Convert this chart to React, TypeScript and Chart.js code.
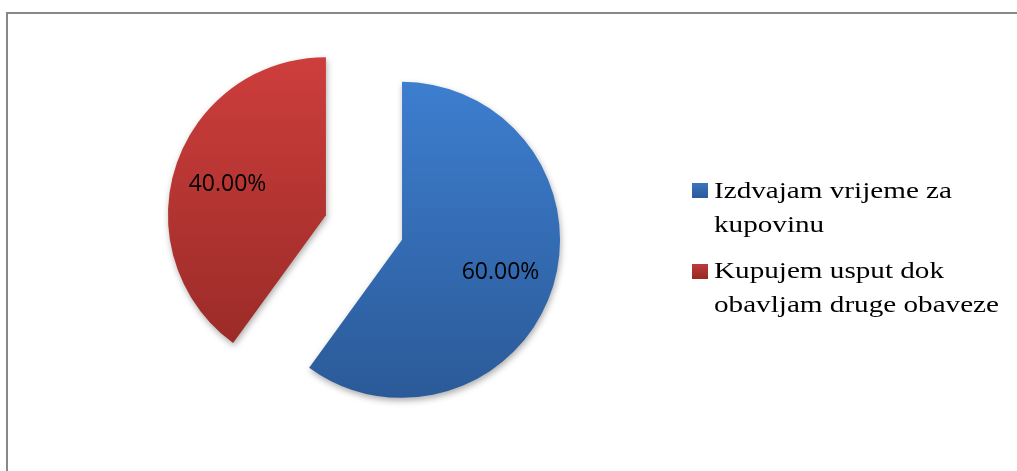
import React, { useEffect, useRef } from "react";
import { Chart, registerables } from "chart.js";

Chart.register(...registerables);

const categories = [
  "Izdvajam vrijeme za kupovinu",
  "Kupujem usput dok obavljam druge obaveze",
];
const legendLines = [
  ["Izdvajam vrijeme za", "kupovinu"],
  ["Kupujem usput dok", "obavljam druge obaveze"],
];
const values = [60, 40];
const valueLabels = ["60.00%", "40.00%"];
const topColors = ["#3d7ecf", "#cd3e3c"];
const bottomColors = ["#2b5a98", "#962926"];
const legendSquares = ["#3a74bf", "#c0393a"];

const SHIFT = 40;
const RADIUS = 158;

// Exploded slice drawing: each arc (geometry computed by Chart.js) is
// pushed outwards along its mid-angle by SHIFT pixels.
function explodedDraw(this: any, ctx: CanvasRenderingContext2D) {
  const { x, y, startAngle, endAngle, outerRadius, options } = this;
  const mid = (startAngle + endAngle) / 2;
  ctx.save();
  ctx.translate(Math.cos(mid) * SHIFT, Math.sin(mid) * SHIFT);
  ctx.beginPath();
  ctx.moveTo(x, y);
  ctx.arc(x, y, outerRadius, startAngle, endAngle);
  ctx.closePath();
  ctx.shadowColor = "rgba(0,0,0,0.32)";
  ctx.shadowBlur = 6;
  ctx.shadowOffsetX = 1;
  ctx.shadowOffsetY = 3;
  ctx.fillStyle = options.backgroundColor;
  ctx.fill();
  ctx.restore();
}

const pieFx = {
  id: "pieFx",
  beforeDatasetsDraw(chart: any) {
    const meta = chart.getDatasetMeta(0);
    meta.data.forEach((arc: any) => {
      arc.draw = explodedDraw;
    });
  },
  afterDatasetsDraw(chart: any) {
    const c = chart.ctx;
    const meta = chart.getDatasetMeta(0);
    c.save();
    c.font = '23px "Open Sans"';
    c.fillStyle = "#000";
    c.textAlign = "center";
    c.textBaseline = "middle";
    meta.data.forEach((arc: any, i: number) => {
      const { x, y, startAngle, endAngle, outerRadius } = arc.getProps(
        ["x", "y", "startAngle", "endAngle", "outerRadius"],
        true
      );
      const mid = (startAngle + endAngle) / 2;
      const d = SHIFT + 0.655 * outerRadius;
      c.fillText(valueLabels[i], x + Math.cos(mid) * d, y + Math.sin(mid) * d + 1);
    });
    c.restore();
  },
};

export default function App() {
  const ref = useRef<HTMLCanvasElement>(null);
  useEffect(() => {
    if (!ref.current) return;
    const chart = new Chart(ref.current, {
      type: "pie",
      data: {
        labels: categories,
        datasets: [
          {
            data: values,
            borderWidth: 0,
            radius: RADIUS,
            backgroundColor: (ctx: any) => {
              const ch = ctx.chart;
              const i = ctx.dataIndex ?? 0;
              const area = ch.chartArea;
              if (!area) return topColors[i];
              const cy = (area.top + area.bottom) / 2;
              const g = ch.ctx.createLinearGradient(0, cy - RADIUS, 0, cy + RADIUS);
              g.addColorStop(0, topColors[i]);
              g.addColorStop(1, bottomColors[i]);
              return g;
            },
          } as any,
        ],
      },
      options: {
        responsive: false,
        animation: false,
        events: [],
        layout: { padding: { left: 0, right: 289, top: 0, bottom: 16 } },
        plugins: {
          legend: { display: false },
          tooltip: { enabled: false },
        },
      },
      plugins: [pieFx],
    });
    return () => chart.destroy();
  }, []);

  return (
    <div style={{ position: "absolute", left: 0, top: 0, width: 1017, height: 471, overflow: "hidden", background: "#fff" }}>
      <div
        style={{
          position: "absolute",
          left: 6,
          top: 12,
          width: 1100,
          height: 600,
          borderTop: "2px solid #888",
          borderLeft: "2px solid #888",
        }}
      />
      <canvas ref={ref} width={1017} height={471} style={{ position: "absolute", left: 0, top: 0 }} />
      {legendLines.map((lines, i) => (
        <React.Fragment key={i}>
          <div
            style={{
              position: "absolute",
              left: 692,
              top: i === 0 ? 183 : 264,
              width: 16,
              height: 15,
              background: `linear-gradient(${legendSquares[i]}, ${bottomColors[i]})`,
            }}
          />
          <div
            style={{
              position: "absolute",
              left: 714,
              top: i === 0 ? 173 : 253,
              font: '24px "Liberation Serif"',
              lineHeight: "34px",
              color: "#000",
              whiteSpace: "nowrap",
              transform: "scaleX(1.215)",
              transformOrigin: "0 0",
            }}
          >
            {lines.map((t, k) => (
              <div key={k}>{t}</div>
            ))}
          </div>
        </React.Fragment>
      ))}
    </div>
  );
}
